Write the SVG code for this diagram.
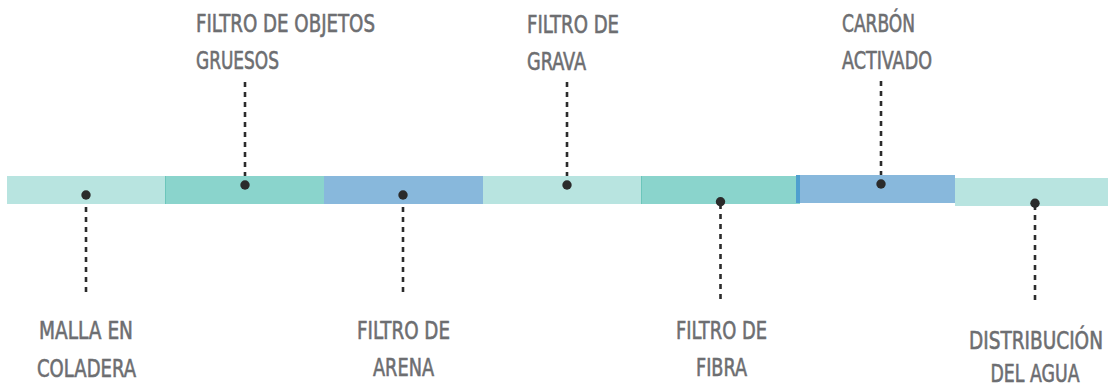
<svg xmlns="http://www.w3.org/2000/svg" width="1108" height="385" viewBox="0 0 1108 385">
  <style>
    .lt { fill: #b8e4e0; }
    .tl { fill: #8ad4cc; }
    .bl { fill: #88b8dc; }
    .dot { fill: #2b2b2b; }
    .lbl { font-family: "Liberation Sans Narrow", "DejaVu Sans Condensed", "Liberation Sans", sans-serif; font-size: 25.5px; fill: #6d6e71; stroke: #6d6e71; stroke-width: 0.6; font-weight: normal; }
    .mid { text-anchor: middle; }
    .end { text-anchor: end; }
    .conn { stroke: #2b2b2b; stroke-width: 2.6; stroke-dasharray: 5 5; fill: none; }
  </style>
  <rect width="1108" height="385" fill="#ffffff"/>
  <g id="connectors">
    <line class="conn" x1="86" y1="197" x2="86" y2="297"/>
    <line class="conn" x1="245" y1="82" x2="245" y2="183"/>
    <line class="conn" x1="403" y1="197" x2="403" y2="297"/>
    <line class="conn" x1="567" y1="82" x2="567" y2="183"/>
    <line class="conn" x1="720.5" y1="204" x2="720.5" y2="303"/>
    <line class="conn" x1="881" y1="81" x2="881" y2="182"/>
    <line class="conn" x1="1035" y1="205" x2="1035" y2="305"/>
  </g>
  <g id="malla">
    <rect class="lt" x="7" y="176" width="158" height="28"/>
    <circle class="dot" cx="86" cy="195" r="4.7"/>
    <text class="lbl mid" x="86" y="338.5" textLength="94" lengthAdjust="spacingAndGlyphs">MALLA EN</text>
    <text class="lbl mid" x="86.5" y="377" textLength="99" lengthAdjust="spacingAndGlyphs">COLADERA</text>
  </g>
  <g id="objetos">
    <rect class="tl" x="165" y="176" width="159" height="28"/>
    <rect x="165" y="176" width="1" height="28" fill="#6cc6bb"/>
    <circle class="dot" cx="245" cy="185" r="4.7"/>
    <text class="lbl" x="196" y="32" textLength="179" lengthAdjust="spacingAndGlyphs">FILTRO DE OBJETOS</text>
    <text class="lbl" x="196" y="69" textLength="83" lengthAdjust="spacingAndGlyphs">GRUESOS</text>
  </g>
  <g id="arena">
    <rect class="bl" x="324" y="176" width="159" height="28"/>
    <circle class="dot" cx="403" cy="195" r="4.7"/>
    <text class="lbl mid" x="403.5" y="338.5" textLength="93" lengthAdjust="spacingAndGlyphs">FILTRO DE</text>
    <text class="lbl mid" x="403.5" y="376" textLength="61" lengthAdjust="spacingAndGlyphs">ARENA</text>
  </g>
  <g id="grava">
    <rect class="lt" x="483" y="176" width="158" height="28"/>
    <circle class="dot" cx="567" cy="185" r="4.7"/>
    <text class="lbl" x="527" y="33" textLength="92" lengthAdjust="spacingAndGlyphs">FILTRO DE</text>
    <text class="lbl" x="527" y="70" textLength="59" lengthAdjust="spacingAndGlyphs">GRAVA</text>
  </g>
  <g id="fibra">
    <rect class="tl" x="641" y="176" width="159" height="28"/>
    <rect x="641" y="176" width="1" height="28" fill="#6cc6bb"/>
    <circle class="dot" cx="720.5" cy="201.7" r="4.7"/>
    <text class="lbl mid" x="721.5" y="339" textLength="91" lengthAdjust="spacingAndGlyphs">FILTRO DE</text>
    <text class="lbl mid" x="721.5" y="376" textLength="51" lengthAdjust="spacingAndGlyphs">FIBRA</text>
  </g>
  <g id="carbon">
    <rect class="bl" x="796" y="175" width="159" height="28"/>
    <rect x="796" y="175" width="4" height="28" fill="#4f9fcf"/>
    <circle class="dot" cx="881" cy="184" r="4.7"/>
    <text class="lbl" x="842" y="32" textLength="73" lengthAdjust="spacingAndGlyphs">CARBÓN</text>
    <text class="lbl" x="842" y="68.5" textLength="90" lengthAdjust="spacingAndGlyphs">ACTIVADO</text>
  </g>
  <g id="distribucion">
    <rect class="lt" x="955" y="178" width="153" height="28"/>
    <circle class="dot" cx="1035" cy="203.3" r="4.7"/>
    <text class="lbl end" x="1103" y="349" textLength="134" lengthAdjust="spacingAndGlyphs">DISTRIBUCIÓN</text>
    <text class="lbl end" x="1079.5" y="382" textLength="89" lengthAdjust="spacingAndGlyphs">DEL AGUA</text>
  </g>
</svg>
